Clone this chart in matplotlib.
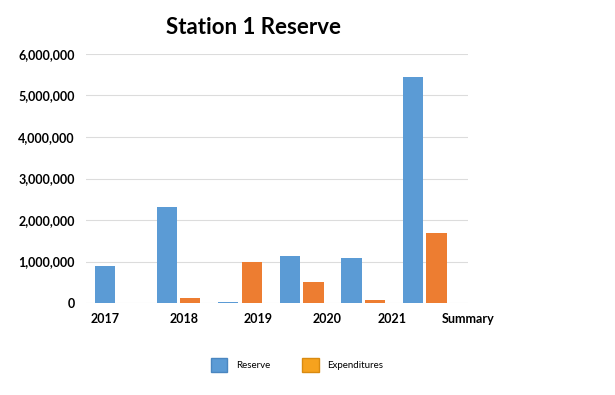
import matplotlib
matplotlib.use("Agg")
import matplotlib.pyplot as plt
from matplotlib.patches import Patch
import numpy as np

categories = ["2017", "2018", "2019", "2020", "2021", "Summary"]
reserve = [900000, 2310000, 15000, 1140000, 1090000, 5450000]
expenditures = [0, 130000, 980000, 510000, 70000, 1680000]
yticks = [0, 1000000, 2000000, 3000000, 4000000, 5000000, 6000000]
# label positions (the reference's labels are offset from the groups)
label_pos = [-0.19, 1.10, 2.29, 3.41, 4.47, 5.70]

plt.rcParams['font.family'] = ['Lato', 'DejaVu Sans']

fig = plt.figure(figsize=(6.15, 3.95), dpi=100)
ax = fig.add_axes([86/615, 1-303/395, (468-86)/615, (303-54)/395])

x = np.arange(len(categories))
w = 0.33
ax.bar(x - 0.19, reserve, w, color="#5b9bd5", zorder=3)
ax.bar(x + 0.19, expenditures, w, color="#ed7d31", zorder=3)

ax.set_xlim(-0.5, 5.5)
ax.set_ylim(0, 6000000)
ax.set_yticks(yticks)
ax.set_yticklabels([f"{v:,}" for v in yticks], fontsize=9, fontweight="bold")
ax.set_xticks(label_pos)
ax.set_xticklabels(categories, fontsize=9, fontweight="bold")
ax.tick_params(length=0, pad=7)
ax.tick_params(axis='y', pad=8)
ax.grid(axis='y', color="#dcdcdc", linewidth=0.8, zorder=0)
for s in ax.spines.values():
    s.set_visible(False)

fig.text(253/615, 1-27/395, "Station 1 Reserve", ha="center", va="center",
         fontsize=16, fontweight="bold")

handles = [Patch(facecolor="#5b9bd5", edgecolor="#4a86c0", label="Reserve"),
           Patch(facecolor="#f6a21e", edgecolor="#d98a10", label="Expenditures")]
fig.legend(handles=handles, loc="center", bbox_to_anchor=(297/615, 1-365/395),
           ncol=2, frameon=False, fontsize=7, handlelength=1.7, handleheight=1.7,
           columnspacing=3.3, handletextpad=0.9)

fig.savefig("out.png", dpi=100)
